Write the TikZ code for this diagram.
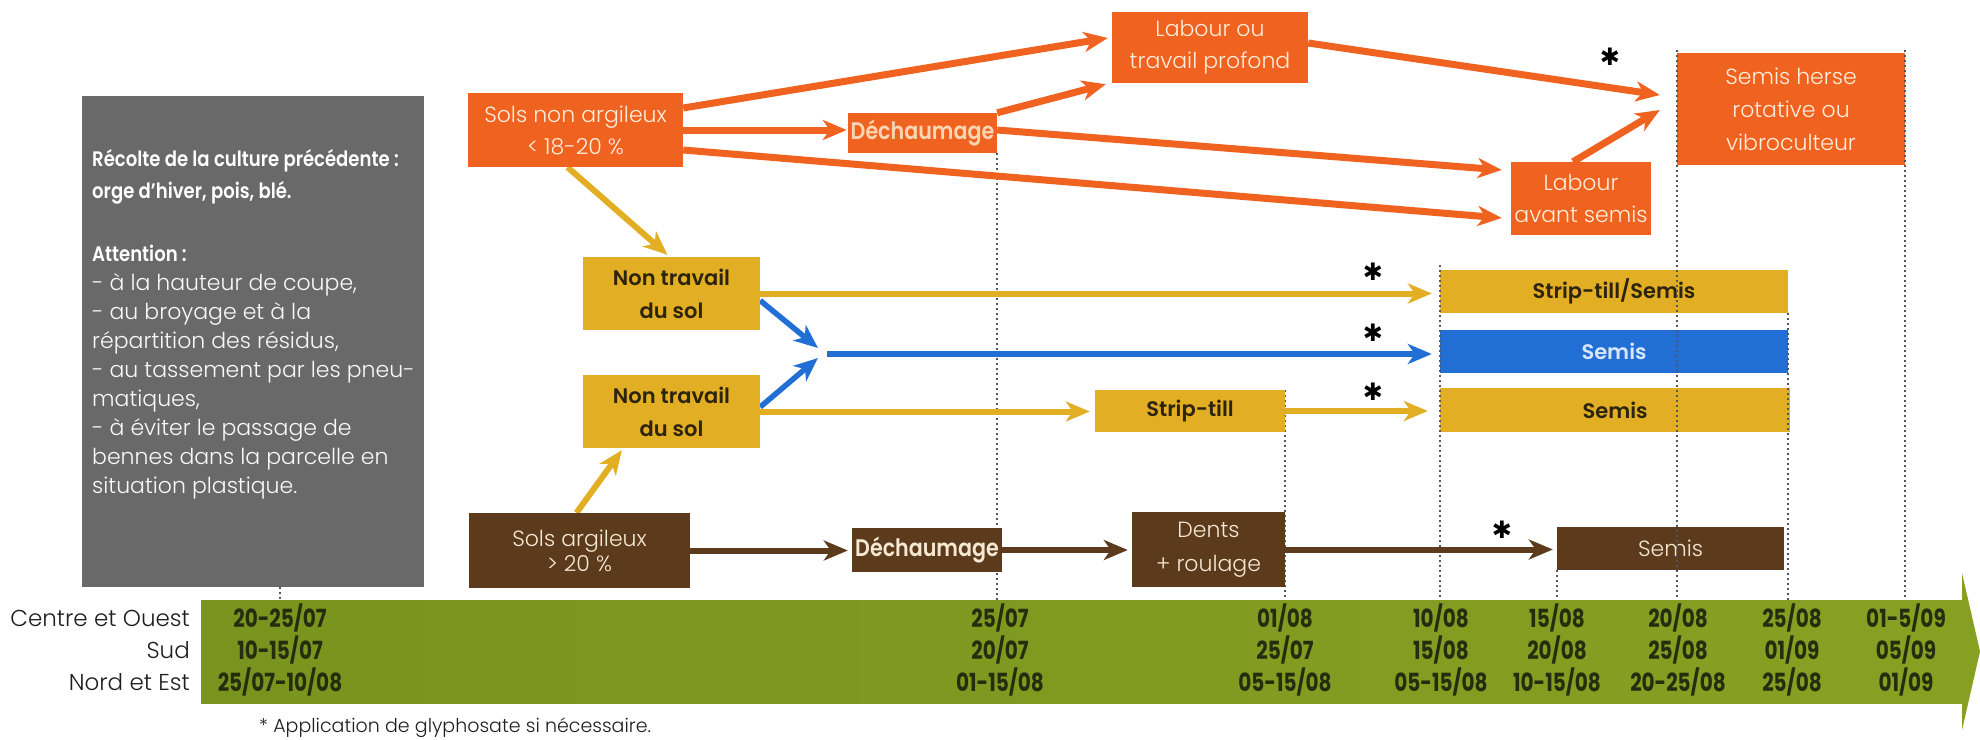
\documentclass[tikz,border=0pt]{standalone}
\usepackage{fontspec}
\setmainfont{Poppins}[UprightFont=* Light, BoldFont=* SemiBold]
\newfontfamily\condf{Poppins}[FakeStretch=0.8]
\newfontfamily\condg{Poppins}[FakeStretch=0.86, BoldFont=* SemiBold]
\newfontfamily\symf{DejaVu Sans}
\usetikzlibrary{arrows.meta,calc}
\definecolor{orangeC}{RGB}{240,98,32}
\definecolor{otext}{RGB}{255,238,220}
\definecolor{dtext}{RGB}{252,214,178}
\definecolor{goldC}{RGB}{226,174,36}
\definecolor{ytext}{RGB}{45,36,14}
\definecolor{blueC}{RGB}{33,110,212}
\definecolor{bltext}{RGB}{215,230,255}
\definecolor{brownC}{RGB}{92,58,28}
\definecolor{brtext}{RGB}{245,232,210}
\definecolor{grayC}{RGB}{105,105,105}
\definecolor{greenL}{RGB}{120,148,30}
\definecolor{greenR}{RGB}{136,160,34}
\definecolor{datetxt}{RGB}{38,44,14}
\definecolor{labtxt}{RGB}{30,30,30}
\definecolor{dotC}{RGB}{85,85,95}
\begin{document}
\begin{tikzpicture}[x=1pt,y=-1pt,
  sz/.style 2 args={minimum width=#1, minimum height=#2},
  obox/.style={fill=orangeC, text=otext, align=center, inner sep=0pt, font=\fontsize{22}{32}\selectfont},
  odech/.style={fill=orangeC, text=dtext, inner sep=0pt, font=\condg\bfseries\fontsize{24}{24}\selectfont},
  ybox/.style={fill=goldC, text=ytext, align=center, inner sep=0pt, font=\bfseries\fontsize{21}{33}\selectfont},
  blbox/.style={fill=blueC, text=bltext, inner sep=0pt, font=\bfseries\fontsize{21}{26}\selectfont},
  brbox/.style={fill=brownC, text=brtext, align=center, inner sep=0pt, font=\fontsize{22}{25}\selectfont},
  brdech/.style={fill=brownC, text=brtext, inner sep=0pt, font=\condg\bfseries\fontsize{24}{24}\selectfont},
  graybox/.style={fill=grayC, inner sep=0pt},
  ghead/.style={anchor=base west, inner sep=0pt, text=white, font=\condg\bfseries\fontsize{21}{21}\selectfont},
  gline/.style={anchor=base west, inner sep=0pt, text=white!95!gray, font=\fontsize{22}{22}\selectfont},
  rowlab/.style={anchor=base east, inner sep=0pt, text=labtxt, font=\fontsize{23}{23}\selectfont},
  datelab/.style={anchor=base, inner sep=0pt, text=datetxt, font=\condf\bfseries\fontsize{25}{25}\selectfont},
  astk/.style={inner sep=0pt, text=black, font=\symf\fontsize{24}{24}\selectfont},
  dotl/.style={draw=dotC, line width=2pt, dash pattern=on 2pt off 3pt},
  tip/.style={-{Stealth[length=24pt,width=20pt,inset=7pt]}},
  oarr/.style={tip, draw=orangeC, line width=7pt},
  yarr/.style={tip, draw=goldC, line width=6pt},
  barr/.style={tip, draw=blueC, line width=5.5pt},
  brarr/.style={tip, draw=brownC, line width=6pt}
]
\useasboundingbox (0,0) rectangle (1980,739);
\coordinate (bartop) at (0,600);
\coordinate (bj) at (822,353);

% nodes
\node[graybox, sz={342pt}{491pt}] (gray) at (253,341.5) {};
\node[obox, sz={215pt}{74pt}] (sols) at (575.5,130) {Sols non argileux\\< 18-20 \%};
\node[odech, sz={149pt}{40pt}] (dech) at (922.5,133) {Déchaumage};
\node[obox, sz={196pt}{71pt}] (lab) at (1210,47.5) {Labour ou\\travail profond};
\node[obox, sz={140pt}{73pt}] (las) at (1581,198.5) {Labour\\avant semis};
\node[obox, font=\fontsize{22}{33}\selectfont, sz={228pt}{112pt}] (sh) at (1791,109) {Semis herse\\rotative ou\\vibroculteur};
\node[ybox, sz={177pt}{73pt}] (nt1) at (671.5,293.5) {Non travail\\du sol};
\node[ybox, sz={177pt}{73pt}] (nt2) at (671.5,411.5) {Non travail\\du sol};
\node[ybox, sz={348pt}{43pt}] (sts) at (1614,291.5) {Strip-till/Semis};
\node[blbox, sz={348pt}{43pt}] (bsem) at (1614,351.5) {Semis};
\node[ybox, sz={350pt}{44pt}] (ysem) at (1615,410) {Semis};
\node[ybox, sz={190pt}{42pt}] (st) at (1190,411) {Strip-till};
\node[brbox, sz={221pt}{75pt}] (sa) at (579.5,550.5) {Sols argileux\\> 20 \%};
\node[brdech, sz={150pt}{44pt}] (bdech) at (927,550) {Déchaumage};
\node[brbox, font=\fontsize{22}{34}\selectfont, sz={153pt}{75pt}] (dents) at (1208.5,549.5) {Dents\\+ roulage};
\node[brbox, sz={227pt}{43pt}] (brsem) at (1670.5,548.5) {Semis};

% dotted guides
\draw[dotl] ($(gray.south)+(27,0)$) -- ($(gray.south |- bartop)+(27,0)$);
\draw[dotl] (dech.south east) -- (dech.south east |- bartop);
\draw[dotl] (st.north east) -- (st.north east |- bartop);
\draw[dotl] ($(sts.north west)+(0,-5)$) -- (sts.north west |- bartop);
\draw[dotl] (brsem.south west) -- (brsem.south west |- bartop);
\draw[dotl] ($(sh.north west)+(0,-3)$) -- (sh.north west |- bartop);
\draw[dotl] (sts.south east) -- (sts.south east |- bartop);
\draw[dotl] ($(sh.north east)+(0,-3)$) -- (sh.north east |- bartop);

% green time bar
\fill[left color=greenL, right color=greenR] (201,600) rectangle (1963,703);
\fill[greenR] (1962,573) -- (1980,651.5) -- (1962,730) -- cycle;

% orange arrows
\draw[oarr] ([yshift=22pt]sols.east) -- ([xshift=-4pt,yshift=9.5pt]lab.west);
\draw[oarr] (sols.east) -- ($(sols.east -| dech.west)+(-1,0)$);
\draw[oarr] ([yshift=-20pt]sols.east) -- ([xshift=-9pt,yshift=-19.5pt]las.west);
\draw[oarr] (dech.north east) -- ([xshift=-6pt,yshift=-1pt]lab.south west);
\draw[oarr] ([yshift=3pt]dech.east) -- ([xshift=-9pt,yshift=28.5pt]las.west);
\draw[oarr] ([yshift=4.5pt]lab.east) -- ([xshift=-17pt,yshift=14pt]sh.west);
\draw[oarr] ([xshift=-8pt]las.north) -- ([xshift=-17pt,yshift=-1pt]sh.west);
% yellow arrows
\draw[yarr] ([xshift=-8pt]sols.south) -- ([xshift=-4pt,yshift=2pt]nt1.north);
\draw[yarr] (nt1.east) -- ($(nt1.east -| sts.west)+(-8,0)$);
\draw[yarr] (nt2.east) -- ($(nt2.east -| st.west)+(-5,0)$);
\draw[yarr] (st.east) -- ($(st.east -| ysem.west)+(-12,0)$);
\draw[yarr] ([xshift=-3pt]sa.north) -- ($(nt2.south west)+(39,2)$);
% blue arrows
\draw[barr] ([yshift=-7pt]nt1.east) -- ($(bj)+(-4,-5)$);
\draw[barr] ([yshift=4.5pt]nt2.east) -- ($(bj)+(-4,5)$);
\draw[barr] ($(bj)+(5,1)$) -- ($(bj -| bsem.west)+(-8,1)$);
% brown arrows
\draw[brarr] (sa.east) -- ($(sa.east -| bdech.west)+(-4,0)$);
\draw[brarr] (bdech.east) -- ($(bdech.east -| dents.west)+(-4,0)$);
\draw[brarr] (dents.east) -- ($(dents.east -| brsem.west)+(-4,0)$);

% redraw boxes on top of arrow ends
\node[obox, sz={215pt}{74pt}] at (sols) {Sols non argileux\\< 18-20 \%};
\node[odech, sz={149pt}{40pt}] at (dech) {Déchaumage};
\node[obox, sz={196pt}{71pt}] at (lab) {Labour ou\\travail profond};
\node[obox, sz={140pt}{73pt}] at (las) {Labour\\avant semis};
\node[ybox, sz={177pt}{73pt}] at (nt1) {Non travail\\du sol};
\node[ybox, sz={177pt}{73pt}] at (nt2) {Non travail\\du sol};
\node[ybox, sz={190pt}{42pt}] at (st) {Strip-till};
\node[brbox, sz={221pt}{75pt}] at (sa) {Sols argileux\\> 20 \%};
\node[brdech, sz={150pt}{44pt}] at (bdech) {Déchaumage};
\node[brbox, font=\fontsize{22}{34}\selectfont, sz={153pt}{75pt}] at (dents) {Dents\\+ roulage};

% asterisks
\node[astk] (a1) at (1610,57) {✱};
\node[astk] (a2) at (1373,272) {✱};
\node[astk] (a3) at (1373,333) {✱};
\node[astk] (a4) at (1373,392) {✱};
\node[astk] (a5) at (1502,530) {✱};

% gray box text
\node[ghead] (g1) at (92,166) {Récolte de la culture précédente :};
\node[ghead] (g2) at (92,198) {orge d’hiver, pois, blé.};
\node[ghead] (g3) at (92,261) {Attention :};
\node[gline] (g4) at (92,290.1) {- à la hauteur de coupe,};
\node[gline] (g5) at (92,319.2) {- au broyage et à la};
\node[gline] (g6) at (92,348.3) {répartition des résidus,};
\node[gline] (g7) at (92,377.4) {- au tassement par les pneu-};
\node[gline] (g8) at (92,406.5) {matiques,};
\node[gline] (g9) at (92,435.6) {- à éviter le passage de};
\node[gline] (g10) at (92,464.7) {bennes dans la parcelle en};
\node[gline] (g11) at (92,493.8) {situation plastique.};

% row labels
\node[rowlab] (r1) at (190,626) {Centre et Ouest};
\node[rowlab] (r2) at (190,658) {Sud};
\node[rowlab] (r3) at (190,690) {Nord et Est};

% dates
\foreach \n/\x/\a/\b/\c in {1/280/20-25\slash07/10-15\slash07/25\slash07-10\slash08,
  2/1000/25\slash07/20\slash07/01-15\slash08,
  3/1285/01\slash08/25\slash07/05-15\slash08,
  4/1441/10\slash08/15\slash08/05-15\slash08,
  5/1557/15\slash08/20\slash08/10-15\slash08,
  6/1678/20\slash08/25\slash08/20-25\slash08,
  7/1792/25\slash08/01\slash09/25\slash08,
  8/1906/01-5\slash09/05\slash09/01\slash09}{
  \node[datelab] (da\n) at (\x,627) {\a};
  \node[datelab] (db\n) at (\x,659) {\b};
  \node[datelab] (dc\n) at (\x,691) {\c};
}

% footnote
\node[anchor=base west, inner sep=0pt, text=labtxt, font=\fontsize{19}{19}\selectfont] (foot) at (259,732) {* Application de glyphosate si nécessaire.};
\end{tikzpicture}
\end{document}
